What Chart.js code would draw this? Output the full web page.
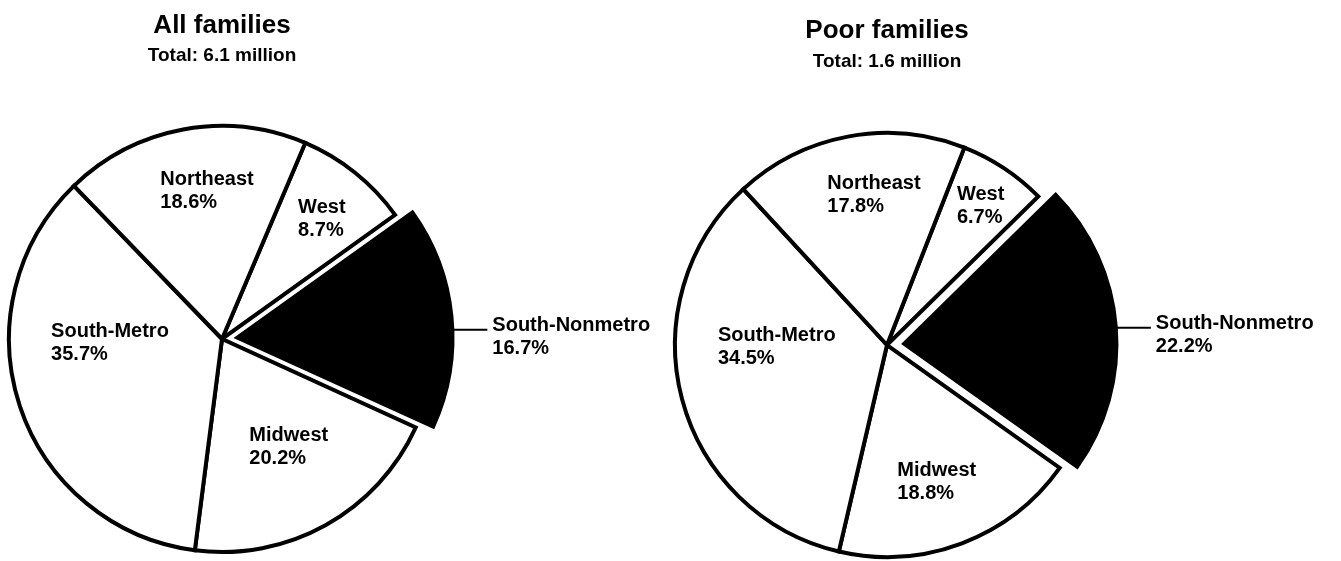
<!DOCTYPE html>
<html>
<head>
<meta charset="utf-8">
<script src="https://cdn.jsdelivr.net/npm/chart.js@4.4.1/dist/chart.umd.min.js"></script>
<style>
  html, body { margin: 0; padding: 0; background: #fff; overflow: hidden; width: 1341px; height: 561px; }
  canvas { position: absolute; top: 0; }
  #pieAll { left: 0; }
  #piePoor { left: 660px; }
</style>
</head>
<body>
<canvas id="pieAll" width="660" height="700"></canvas>
<canvas id="piePoor" width="681" height="700"></canvas>
<script>
// data (percent of families, by region)
const regions = ['West', 'South-Nonmetro', 'Midwest', 'South-Metro', 'Northeast'];
const allShares = [8.7, 16.7, 20.2, 35.7, 18.6];
const poorShares = [6.7, 22.2, 18.8, 34.5, 17.8];
const allTitle = 'All families';
const allTotal = 'Total: 6.1 million';
const poorTitle = 'Poor families';
const poorTotal = 'Total: 1.6 million';

Chart.defaults.font.family = '"Liberation Sans", Arial, sans-serif';
Chart.defaults.color = '#000';

// draws the region name + share inside each slice, or beside it with a leader line
const pieLabels = {
  id: 'pieLabels',
  afterDatasetsDraw(chart, args, opts) {
    const ctx = chart.ctx;
    const meta = chart.getDatasetMeta(0);
    const labels = chart.data.labels;
    const values = chart.data.datasets[0].data;
    ctx.save();
    ctx.font = opts.font;
    ctx.fillStyle = '#000';
    ctx.strokeStyle = '#000';
    ctx.textAlign = 'left';
    ctx.textBaseline = 'alphabetic';
    meta.data.forEach((arc, i) => {
      const p = arc.getProps(['x', 'y', 'startAngle', 'endAngle', 'outerRadius']);
      const place = opts.place[labels[i]];
      const lines = [labels[i], values[i].toFixed(1) + '%'];
      const a = (place.angle - 90) * Math.PI / 180;
      if (place.leader) {
        // follow the exploded slice the same way ArcElement shifts it
        const mid = (p.startAngle + p.endAngle) / 2;
        const o = (arc.options.offset || 0) / 4;
        const fix = 1 - Math.sin(Math.min(Math.PI, p.endAngle - p.startAngle));
        const d = o * (1 + fix);
        const sx = p.x + Math.cos(mid) * d + Math.cos(a) * p.outerRadius;
        const sy = p.y + Math.sin(mid) * d + Math.sin(a) * p.outerRadius;
        ctx.lineWidth = 2;
        ctx.beginPath();
        ctx.moveTo(sx, sy);
        ctx.lineTo(sx + place.leader, sy);
        ctx.stroke();
        ctx.fillText(lines[0], sx + place.leader + 5, sy + 1);
        ctx.fillText(lines[1], sx + place.leader + 5, sy + 1 + opts.lineGap);
      } else {
        const cx = p.x + Math.cos(a) * p.outerRadius * place.r;
        const cy = p.y + Math.sin(a) * p.outerRadius * place.r;
        const w = Math.max(...lines.map(t => ctx.measureText(t).width));
        const x0 = cx - w / 2;
        ctx.fillText(lines[0], x0, cy - 4);
        ctx.fillText(lines[1], x0, cy - 4 + opts.lineGap);
      }
    });
    ctx.restore();
  }
};

function makePie(canvasId, shares, title, total, opts) {
  return new Chart(document.getElementById(canvasId), {
    type: 'pie',
    data: {
      labels: regions,
      datasets: [{
        data: shares,
        backgroundColor: ['#fff', '#000', '#fff', '#fff', '#fff'],
        borderColor: '#000',
        borderWidth: 4,
        borderJoinStyle: 'miter',
        offset: [0, opts.explode, 0, 0, 0],
        clip: false
      }]
    },
    options: {
      responsive: false,
      animation: false,
      events: [],
      rotation: opts.rotation,
      radius: opts.radius,
      layout: { padding: opts.padding },
      plugins: {
        legend: { display: false },
        tooltip: { enabled: false },
        title: {
          display: true,
          text: title,
          font: { size: 26, weight: 'bold' },
          padding: opts.titlePad
        },
        subtitle: {
          display: true,
          text: total,
          font: { size: 19, weight: 'bold' },
          padding: { top: 0, bottom: 10 }
        },
        pieLabels: {
          font: 'bold 20px "Liberation Sans", Arial, sans-serif',
          lineGap: 23,
          place: opts.place
        }
      }
    },
    plugins: [pieLabels]
  });
}

makePie('pieAll', allShares, allTitle, allTotal, {
  rotation: 23,
  radius: 213,
  explode: 62,
  padding: { left: 0, right: 216, top: 0, bottom: 99 },
  titlePad: { top: 10, bottom: 3 },
  place: {
    'West': { angle: 39.3, r: 0.74 },
    'South-Nonmetro': { angle: 88, leader: 35 },
    'Midwest': { angle: 147.9, r: 0.59 },
    'South-Metro': { angle: 269, r: 0.526 },
    'Northeast': { angle: 354.3, r: 0.707 }
  }
});

makePie('piePoor', poorShares, poorTitle, poorTotal, {
  rotation: 21.4,
  radius: 212,
  explode: 69,
  padding: { left: 0, right: 227, top: 0, bottom: 93 },
  titlePad: { top: 15, bottom: 4 },
  place: {
    'West': { angle: 33.5, r: 0.80 },
    'South-Nonmetro': { angle: 85.7, leader: 35 },
    'Midwest': { angle: 159.8, r: 0.68 },
    'South-Metro': { angle: 270, r: 0.52 },
    'Northeast': { angle: 355.1, r: 0.72 }
  }
});
</script>
</body>
</html>
